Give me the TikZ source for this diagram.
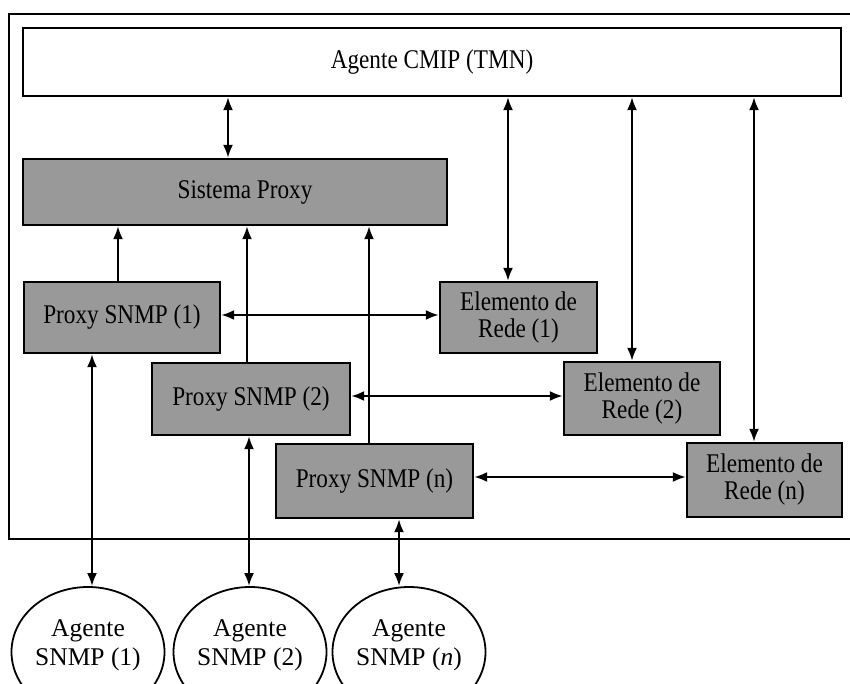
\documentclass[tikz,border=0pt]{standalone}
\usepackage{fontspec}
\setmainfont{Liberation Serif}
\newfontfamily\boxfont[FakeStretch=0.86]{Liberation Serif}
\usetikzlibrary{arrows.meta,shapes.geometric}

\begin{document}
\begin{tikzpicture}[x=1pt,y=-1pt,
  box/.style={draw=black, line width=2.3pt, fill=black!40, inner sep=0pt,
    font=\boxfont\fontsize{27}{27}\selectfont, align=center},
  plainbox/.style={draw=black, line width=2.2pt, fill=white, inner sep=0pt,
    font=\boxfont\fontsize{27}{27}\selectfont},
  agent/.style={ellipse, draw=black, line width=1.8pt, fill=white,
    minimum width=153pt, minimum height=130pt, inner sep=0pt},
  agentlbl/.style={font=\fontsize{25.5}{29}\selectfont, align=center, inner sep=0pt},
  tip/.tip={Latex[length=13pt,width=10pt]},
  link/.style={line width=2.3pt, tip-tip},
  uplink/.style={line width=2.3pt, -tip}]

\useasboundingbox (0,0) rectangle (850,684);

% enclosing frame (runs off to the right)
\draw[line width=2.2pt] (9,14) rectangle (880,539);

% management agent on top
\node[plainbox, minimum width=818pt, minimum height=68pt] (cmip) at (432,62) {Agente CMIP (TMN)};

% proxy system
\node[box, minimum width=424pt, minimum height=66pt] (sp) at (235,192) {\hspace*{20pt}Sistema Proxy};

% SNMP proxies
\node[box, minimum width=196pt, minimum height=71pt] (p1) at (122,317.5) {Proxy SNMP (1)};
\node[box, minimum width=198pt, minimum height=72pt] (p2) at (251,399) {Proxy SNMP (2)};
\node[box, minimum width=197pt, minimum height=74pt] (pn) at (374.5,481) {Proxy SNMP (n)};

% network elements
\node[box, minimum width=157pt, minimum height=71pt] (e1) at (518.5,317.5) {Elemento de\\Rede (1)};
\node[box, minimum width=156pt, minimum height=73pt] (e2) at (642,398.5) {Elemento de\\Rede (2)};
\node[box, minimum width=155pt, minimum height=74pt] (en) at (764.5,480) {Elemento de\\Rede (n)};

% SNMP agents below the frame
\node[agent] (a1) at (88,652) {};
\node[agent] (a2) at (250,652) {};
\node[agent] (an) at (409,652) {};
\node[agentlbl] (a1t) at (88,645) {Agente\\SNMP (1)};
\node[agentlbl] (a2t) at (250,645) {Agente\\SNMP (2)};
\node[agentlbl] (ant) at (409,645) {Agente\\SNMP (\textit{n})};

% x positions of vertical links
\coordinate (xs) at (228,0);
\coordinate (x1) at (508,0);
\coordinate (x2) at (632,0);
\coordinate (xn) at (754,0);
\coordinate (u1) at (118,0);
\coordinate (u2) at (247,0);
\coordinate (un) at (369,0);
\coordinate (d1) at (92,0);
\coordinate (d2) at (249,0);
\coordinate (dn) at (399,0);
% y positions of horizontal links
\coordinate (h1) at (0,315);
\coordinate (h2) at (0,396);
\coordinate (hn) at (0,477);

% CMIP agent to proxy system and network elements
\draw[link] (cmip.south -| xs) -- (sp.north -| xs);
\draw[link] (cmip.south -| x1) -- (e1.north -| x1);
\draw[link] (cmip.south -| x2) -- (e2.north -| x2);
\draw[link] (cmip.south -| xn) -- (en.north -| xn);

% proxies report to the proxy system
\draw[uplink] (p1.north -| u1) -- (sp.south -| u1);
\draw[uplink] (p2.north -| u2) -- (sp.south -| u2);
\draw[uplink] (pn.north -| un) -- (sp.south -| un);

% proxies to network elements
\draw[link] (p1.east |- h1) -- (e1.west |- h1);
\draw[link] (p2.east |- h2) -- (e2.west |- h2);
\draw[link] (pn.east |- hn) -- (en.west |- hn);

% proxies to SNMP agents
\draw[link] (p1.south -| d1) -- (a1.north -| d1);
\draw[link] (p2.south -| d2) -- (a2.north -| d2);
\draw[link] (pn.south -| dn) -- (an.north -| dn);
\end{tikzpicture}
\end{document}
